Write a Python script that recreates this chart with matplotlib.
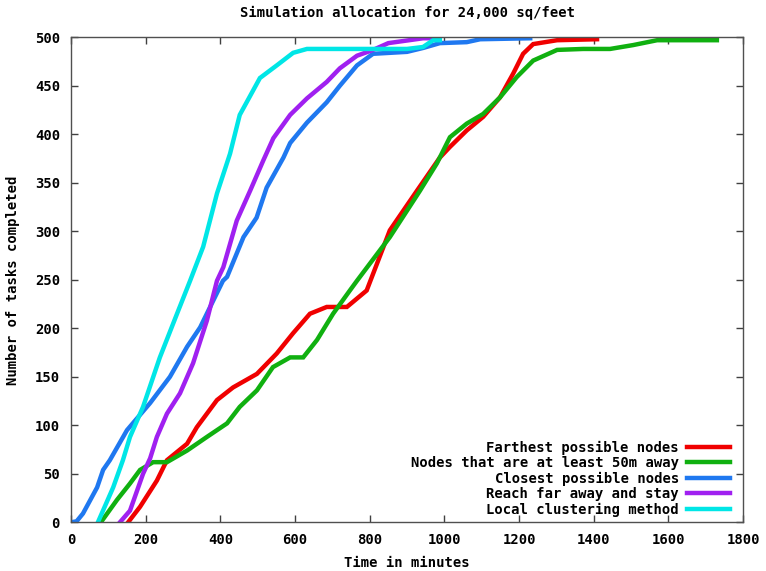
import matplotlib
matplotlib.use("Agg")
import matplotlib.pyplot as plt

# ── Data (time in minutes, tasks completed) ───────────────────────────────────
far_t = [153, 185, 230, 257, 311, 337, 391, 434, 498, 551, 595, 640, 685, 739,
         792, 854, 927, 988, 1015, 1060, 1104, 1149, 1185, 1211, 1238, 1302, 1409]
far_n = [0, 16, 43, 64, 81, 98, 126, 139, 153, 174, 195, 215, 222, 222,
         239, 301, 342, 376, 387, 404, 418, 438, 463, 483, 493, 497, 498]

m50_t = [80, 123, 158, 185, 220, 257, 311, 364, 418, 452, 498, 541, 587, 622,
         659, 702, 747, 766, 854, 935, 980, 1015, 1060, 1104, 1149, 1194, 1238,
         1302, 1372, 1444, 1506, 1570, 1730]
m50_n = [0, 23, 40, 54, 62, 62, 74, 88, 102, 119, 136, 160, 170, 170,
         188, 215, 239, 249, 294, 342, 370, 397, 411, 421, 438, 459, 476,
         487, 488, 488, 492, 497, 497]

close_t = [0, 15, 32, 70, 86, 104, 150, 212, 265, 311, 346, 407, 418, 462, 497,
           524, 569, 587, 632, 685, 720, 766, 809, 900, 943, 988, 1060, 1096, 1230]
close_n = [0, 1, 9, 36, 54, 64, 95, 123, 150, 181, 201, 249, 253, 294, 314,
           345, 376, 391, 412, 433, 450, 471, 483, 485, 489, 494, 495, 498, 499]

reach_t = [131, 158, 193, 212, 230, 257, 292, 327, 364, 391, 408, 444, 480, 515,
           542, 587, 632, 685, 720, 766, 809, 850, 943, 985]
reach_n = [0, 12, 50, 66, 88, 112, 133, 164, 208, 249, 263, 311, 342, 373,
           396, 420, 437, 454, 468, 481, 487, 494, 499, 499]

local_t = [72, 113, 139, 158, 193, 238, 284, 319, 354, 391, 426, 452, 506, 551,
           595, 632, 900, 943, 970, 988]
local_n = [0, 36, 64, 88, 119, 170, 215, 249, 284, 339, 380, 420, 458, 471,
           484, 488, 488, 490, 497, 497]

labels = ["Farthest possible nodes", "Nodes that are at least 50m away",
          "Closest possible nodes", "Reach far away and stay",
          "Local clustering method"]
colors = ["#f00000", "#10b010", "#1f78f0", "#a020f0", "#00e6e6"]

x_ticks = list(range(0, 1801, 200))
y_ticks = list(range(0, 501, 50))

# ── Figure ────────────────────────────────────────────────────────────────────
plt.rcParams["font.family"] = "DejaVu Sans Mono"
plt.rcParams["font.weight"] = "bold"

fig = plt.figure(figsize=(7.66, 5.71), dpi=100)
ax = fig.add_axes([71 / 766, 1 - 522.3 / 571, 672 / 766, 485 / 571])

series = [(far_t, far_n), (m50_t, m50_n), (close_t, close_n),
          (reach_t, reach_n), (local_t, local_n)]
for (t, n), lab, c in zip(series, labels, colors):
    ax.plot(t, n, color=c, lw=3.2, label=lab, solid_joinstyle="miter")

ax.set_xlim(0, 1800)
ax.set_ylim(0, 500)
ax.set_xticks(x_ticks)
ax.set_yticks(y_ticks)
ax.tick_params(direction="in", length=5, width=1, color="#404040",
               top=True, right=True, labelsize=10, pad=8)
for lab in ax.get_xticklabels() + ax.get_yticklabels():
    lab.set_fontweight("bold")
for s in ax.spines.values():
    s.set_color("#505050")
    s.set_linewidth(1)

fig.text(407 / 766, 1 - 13 / 571, "Simulation allocation for 24,000 sq/feet",
         ha="center", va="center", fontsize=10, fontweight="bold")
fig.text(407 / 766, 1 - 563 / 571, "Time in minutes",
         ha="center", va="center", fontsize=10, fontweight="bold")
fig.text(13 / 766, 1 - 280 / 571, "Number of tasks completed", rotation=90,
         ha="center", va="center", fontsize=10, fontweight="bold")

leg = ax.legend(loc="lower right", bbox_to_anchor=(0.9896, 0.0),
                frameon=False, markerfirst=False,
                handlelength=3.1, handletextpad=0.6, labelspacing=0.1,
                borderaxespad=0.0, prop={"size": 10, "weight": "bold"})
for t in leg.get_texts():
    t.set_ha("right")
leg._legend_box.align = "right"

fig.savefig("out.png", dpi=100)
